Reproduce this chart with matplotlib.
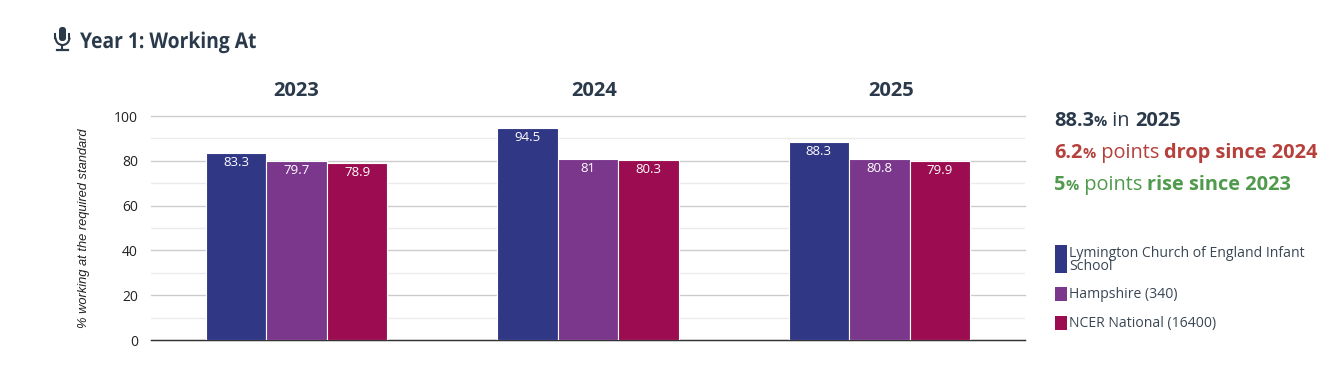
import matplotlib
matplotlib.use('Agg')
import matplotlib.pyplot as plt
import matplotlib.patheffects as pe
from matplotlib.patches import Rectangle, FancyBboxPatch, Arc
from matplotlib.transforms import Affine2D
import numpy as np

years = ['2023', '2024', '2025']
school = [83.3, 94.5, 88.3]
hampshire = [79.7, 81, 80.8]
national = [78.9, 80.3, 79.9]
series_names = ['Lymington Church of England Infant\nSchool', 'Hampshire (340)', 'NCER National (16400)']
colors = ['#303885', '#7a378b', '#9b0d50']
major_ticks = [0, 20, 40, 60, 80, 100]
minor_ticks = [10, 30, 50, 70, 90]

W, H = 1341, 376
dark = '#2a3a4b'
red = '#b5403c'
green = '#4f9a4c'
sans = ['Open Sans', 'DejaVu Sans']


class Squeeze(pe.AbstractPathEffect):
    # narrows text sideways, there is no condensed bold font installed
    def __init__(self, x0, sx):
        super().__init__()
        self.x0 = x0
        self.sx = sx

    def draw_path(self, renderer, gc, tpath, affine, rgbFace=None):
        squeeze = Affine2D().translate(-self.x0, 0).scale(self.sx, 1).translate(self.x0, 0)
        renderer.draw_path(gc, tpath, affine + squeeze, rgbFace)


fig = plt.figure(figsize=(W / 100, H / 100), dpi=100, facecolor='white')

# main chart
ax = fig.add_axes([151 / W, 1 - 340 / H, 874 / W, 224 / H])
x = np.arange(len(years))
bar_w = 60.5 / (874 / 3)
for i, vals in enumerate([school, hampshire, national]):
    bars = ax.bar(x + (i - 1) * bar_w, vals, bar_w, color=colors[i], edgecolor='white', linewidth=0.8, zorder=3)
    for b, v in zip(bars, vals):
        ax.annotate(str(v), (b.get_x() + b.get_width() / 2, v), xytext=(0, -3 * 0.72),
                    textcoords='offset points', ha='center', va='top', color='white',
                    fontsize=9.5, family=sans, zorder=4)

ax.set_xlim(-0.5, 2.5)
ax.set_ylim(0, 100)
ax.set_yticks(major_ticks)
ax.set_yticks(minor_ticks, minor=True)
ax.set_xticks([])
ax.grid(axis='y', which='major', color='#cccccc', linewidth=1, zorder=0)
ax.grid(axis='y', which='minor', color='#ebebeb', linewidth=1, zorder=0)
for gl in ax.get_ygridlines():
    gl.set_clip_on(False)
ax.tick_params(axis='y', which='both', length=0, labelsize=10, labelcolor='#222222', pad=9.4)
for lab in ax.get_yticklabels():
    lab.set_family(sans)
for side in ['top', 'right', 'left']:
    ax.spines[side].set_visible(False)
ax.spines['bottom'].set_color('#333333')
ax.spines['bottom'].set_linewidth(1)

# overlay in pixel coordinates for title, callouts and legend
ov = fig.add_axes([0, 0, 1, 1], zorder=5)
ov.set_xlim(0, W)
ov.set_ylim(H, 0)
ov.axis('off')
ov.patch.set_alpha(0)

# the year headings do not sit quite over the groups in the original
for px, y in zip([296, 594, 891], years):
    ov.text(px, 91.5, y, ha='center', va='center', fontsize=14.5, fontweight='bold', color=dark, family=sans)

ov.text(84, 228, '% working at the required standard', rotation=90, ha='center', va='center',
        fontsize=9.3, style='italic', color='#222222', family=['Liberation Sans', 'DejaVu Sans'])

ov.text(80, 48, 'Year 1: Working At', ha='left', va='baseline', fontsize=15.6, fontweight='bold',
        color=dark, family=sans, path_effects=[Squeeze(80, 0.89)])

# microphone icon
ov.add_patch(FancyBboxPatch((59, 27), 7, 14, boxstyle='round,pad=0,rounding_size=3', fc=dark, ec='none'))
ov.add_patch(Arc((62.5, 37.5), 14, 15, theta1=0, theta2=180, ec=dark, lw=1.5))
ov.plot([55.5, 55.5], [34, 37.5], color=dark, lw=1.5)
ov.plot([69.5, 69.5], [34, 37.5], color=dark, lw=1.5)
ov.plot([62.5, 62.5], [45, 49], color=dark, lw=1.5)
ov.plot([57, 68], [49.5, 49.5], color=dark, lw=1.6)


def runs(x0, y0, parts, color):
    # parts are (text, fontsize, weight), drawn one after another on a baseline
    r = fig.canvas.get_renderer()
    px = x0
    for txt, size, weight in parts:
        ov.text(px, y0, txt, fontsize=size, fontweight=weight, color=color, family=sans,
                ha='left', va='baseline')
        # bars either side so that the spaces get counted
        a = ov.text(0, 0, '|' + txt + '|', fontsize=size, fontweight=weight, family=sans, alpha=0)
        b = ov.text(0, 0, '||', fontsize=size, fontweight=weight, family=sans, alpha=0)
        px += a.get_window_extent(r).width - b.get_window_extent(r).width
        a.remove()
        b.remove()


runs(1054, 126, [('88.3', 14.4, 'bold'), ('%', 10.5, 'bold'), (' in ', 14.4, 'normal'), ('2025', 14.4, 'bold')], dark)
runs(1054, 158, [('6.2', 14.4, 'bold'), ('%', 10.5, 'bold'), (' points ', 14.4, 'normal'), ('drop since 2024', 14.4, 'bold')], red)
runs(1054, 190, [('5', 14.4, 'bold'), ('%', 10.5, 'bold'), (' points ', 14.4, 'normal'), ('rise since 2023', 14.4, 'bold')], green)

# legend
swatches = [(245, 28), (287, 14), (316, 14)]
for name, c, (top, h) in zip(series_names, colors, swatches):
    ov.add_patch(Rectangle((1055, top), 12, h, fc=c, ec='none'))
    ov.text(1069.5, top + h / 2 + 0.8, name, ha='left', va='center', fontsize=10.07, color='#3a4654',
            family=sans, linespacing=0.85)

fig.savefig('out.png', dpi=100)
